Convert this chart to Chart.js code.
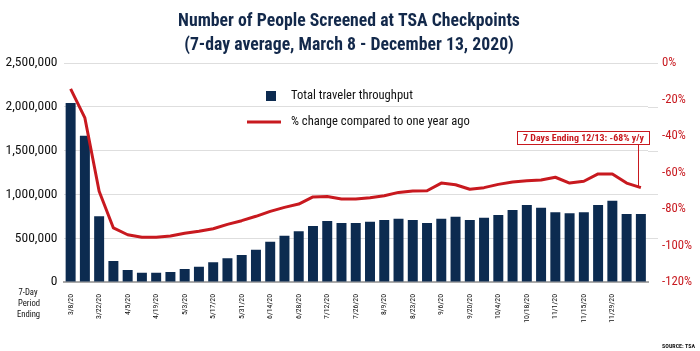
<!DOCTYPE html>
<html><head><meta charset="utf-8">
<script src="https://cdn.jsdelivr.net/npm/chart.js@4/dist/chart.umd.min.js"></script>
<style>html,body{margin:0;padding:0;background:#fff}#wrap{width:700px;height:351px;position:relative}</style>
</head><body><div id="wrap"><canvas id="c" width="700" height="351"></canvas></div>
<script>
const categories = ["3/8/20","3/15/20","3/22/20","3/29/20","4/5/20","4/12/20","4/19/20","4/26/20","5/3/20","5/10/20","5/17/20","5/24/20","5/31/20","6/7/20","6/14/20","6/21/20","6/28/20","7/5/20","7/12/20","7/19/20","7/26/20","8/2/20","8/9/20","8/16/20","8/23/20","8/30/20","9/6/20","9/13/20","9/20/20","9/27/20","10/4/20","10/11/20","10/18/20","10/25/20","11/1/20","11/8/20","11/15/20","11/22/20","11/29/20","12/6/20","12/13/20"];
const throughput = [2043000,1670000,750000,240000,137000,107000,107000,114000,148000,175000,225000,270000,308000,369000,460000,529000,578000,639000,696000,673000,673000,689000,708000,723000,708000,673000,723000,746000,708000,734000,765000,822000,879000,849000,795000,784000,795000,879000,928000,776000,776000];
const pctChange = [-14.2,-30.1,-70.3,-90.4,-94.1,-95.5,-95.5,-94.8,-93.3,-92.2,-90.8,-88.4,-86.4,-84.0,-81.3,-79.1,-77.3,-73.4,-73.1,-74.5,-74.5,-73.8,-72.7,-70.9,-70.1,-70.0,-65.8,-66.7,-69.2,-68.3,-66.5,-65.2,-64.5,-64.1,-62.6,-65.8,-64.8,-60.8,-60.8,-65.8,-68.3];
const leftTicks = [0,500000,1000000,1500000,2000000,2500000];
const rightTicks = [0,-20,-40,-60,-80,-100,-120];
const titleLines = ["Number of People Screened at TSA Checkpoints","(7-day average, March 8 - December 13, 2020)"];
const legendLabels = ["Total traveler throughput","% change compared to one year ago"];
const annotationText = "7 Days Ending 12/13: -68% y/y";

const NAVY = "#0c2b50", RED = "#c8191f", GRID = "#dedede";
const FONT = "'Roboto Condensed','Open Sans Condensed',sans-serif";
Chart.defaults.font.family = FONT;

const mctx = document.createElement('canvas').getContext('2d');
function fit(text, target, weight) {
  mctx.font = (weight || 'normal') + ' 20px ' + FONT;
  return 20 * target / mctx.measureText(text).width;
}
const SZ = {
  title: fit(titleLines[0], 342, 'bold'),
  legend: fit(legendLabels[0], 122),
  annot: fit(annotationText, 121, 'bold'),
  left: fit("2,500,000", 52),
  right: fit("-120%", 30),
  xt: fit("3/22/20", 25),
  note: fit("Period", 22),
  src: fit("SOURCE: TSA", 33, 'bold')
};

const decor = {
  id: 'decor',
  beforeDatasetsDraw(chart) {
    const ctx = chart.ctx, y = chart.scales.y, a = chart.chartArea;
    ctx.save();
    ctx.strokeStyle = GRID; ctx.lineWidth = 1;
    leftTicks.forEach(v => { if (v === 0) return;
      const py = Math.round(y.getPixelForValue(v)) + 0.5;
      ctx.beginPath(); ctx.moveTo(a.right, py); ctx.lineTo(a.right + 10, py); ctx.stroke(); });
    ctx.restore();
  },
  afterDraw(chart) {
    const ctx = chart.ctx, xs = chart.scales.x, y1 = chart.scales.y1;
    ctx.save();
    ctx.fillStyle = "#13294b"; ctx.textAlign = "center"; ctx.textBaseline = "middle";
    ctx.font = "bold " + SZ.title + "px " + FONT;
    ctx.fillText(titleLines[0], 349, 22);
    ctx.fillText(titleLines[1], 349, 46);
    ctx.fillStyle = NAVY; ctx.fillRect(266, 91, 10, 10);
    ctx.strokeStyle = RED; ctx.lineWidth = 3;
    ctx.beginPath(); ctx.moveTo(247, 122); ctx.lineTo(281, 122); ctx.stroke();
    ctx.fillStyle = "#111"; ctx.textAlign = "left"; ctx.font = SZ.legend + "px " + FONT;
    ctx.fillText(legendLabels[0], 291, 96);
    ctx.fillText(legendLabels[1], 291, 122);
    const last = pctChange.length - 1;
    const lx = Math.round(xs.getPixelForValue(last)) - 2.5;
    const ly = y1.getPixelForValue(pctChange[last]);
    ctx.strokeStyle = RED; ctx.lineWidth = 1;
    ctx.beginPath(); ctx.moveTo(lx, 144); ctx.lineTo(lx, ly); ctx.stroke();
    ctx.fillStyle = "#fff"; ctx.fillRect(517, 131, 132, 13);
    ctx.strokeRect(517.5, 131.5, 132, 13);
    ctx.fillStyle = RED; ctx.textAlign = "center"; ctx.font = "bold " + SZ.annot + "px " + FONT;
    ctx.fillText(annotationText, 583.5, 138.5);
    ctx.fillStyle = "#111"; ctx.font = SZ.note + "px " + FONT;
    ctx.fillText("7-Day", 28, 293);
    ctx.fillText("Period", 29, 304);
    ctx.fillText("Ending", 28.5, 315);
    ctx.font = "bold " + SZ.src + "px " + FONT; ctx.textAlign = "right";
    ctx.fillText("SOURCE: TSA", 695, 346);
    ctx.restore();
  }
};

new Chart(document.getElementById('c'), {
  data: {
    labels: categories,
    datasets: [
      { type: 'line', label: legendLabels[1], data: pctChange, yAxisID: 'y1', borderColor: RED, borderWidth: 3,
        pointRadius: 0, tension: 0, borderJoinStyle: 'round', order: 0 },
      { type: 'bar', label: legendLabels[0], data: throughput, yAxisID: 'y', backgroundColor: NAVY,
        barPercentage: 0.7, categoryPercentage: 1, order: 1 }
    ]
  },
  options: {
    responsive: false, animation: false, devicePixelRatio: 1,
    layout: { padding: { top: 63, bottom: 0, left: 0, right: 0 } },
    plugins: { legend: { display: false }, tooltip: { enabled: false }, title: { display: false } },
    scales: {
      x: {
        grid: { display: false },
        border: { display: true, color: '#a9a9a9', width: 2 },
        ticks: { autoSkip: false, maxRotation: 90, minRotation: 90, padding: 4, color: '#111',
          font: { size: SZ.xt }, callback: (v, i) => (i % 2 === 0 && i < 40 ? categories[i] : '') },
        afterFit: s => { s.height = 69; }
      },
      y: {
        position: 'left', min: 0, max: 2500000,
        afterBuildTicks: s => { s.ticks = leftTicks.map(v => ({ value: v })); },
        grid: { color: ctx => (ctx.tick && ctx.tick.value === 0 ? 'rgba(0,0,0,0)' : GRID), drawTicks: false },
        border: { display: false },
        ticks: { padding: 6, color: '#111', font: { size: SZ.left }, callback: v => v.toLocaleString('en-US') },
        afterFit: s => { s.width = 63.5; }
      },
      y1: {
        position: 'right', min: -120, max: 0,
        afterBuildTicks: s => { s.ticks = rightTicks.map(v => ({ value: v })); },
        grid: { drawOnChartArea: false, drawTicks: false },
        border: { display: false },
        ticks: { padding: 14, color: RED, font: { size: SZ.right }, callback: v => v + '%' },
        afterFit: s => { s.width = 52; }
      }
    }
  },
  plugins: [decor]
});
</script></body></html>
